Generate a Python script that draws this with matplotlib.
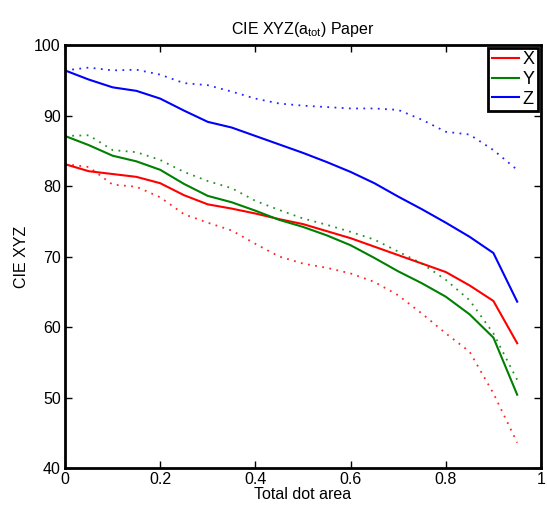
import numpy as np
import matplotlib
matplotlib.use('Agg')
from matplotlib import pyplot as plt

plt.rcParams['font.family'] = ['Liberation Sans', 'DejaVu Sans']
plt.rcParams['mathtext.fontset'] = 'custom'
plt.rcParams['mathtext.rm'] = 'Liberation Sans'
plt.rcParams['mathtext.it'] = 'Liberation Sans'

# total dot area
area = [0.0, 0.05, 0.1, 0.15, 0.2, 0.25, 0.3, 0.35, 0.4, 0.45,
        0.5, 0.55, 0.6, 0.65, 0.7, 0.75, 0.8, 0.85, 0.9, 0.95]

# solid lines
X_solid = [83.1, 82.1, 81.7, 81.3, 80.4, 78.7, 77.4, 76.8, 76.1, 75.3,
           74.6, 73.6, 72.6, 71.4, 70.2, 69.0, 67.8, 65.9, 63.7, 57.7]
Y_solid = [87.1, 85.8, 84.3, 83.5, 82.3, 80.3, 78.6, 77.7, 76.5, 75.2,
           74.2, 73.0, 71.6, 69.8, 67.9, 66.2, 64.3, 61.8, 58.5, 50.4]
Z_solid = [96.4, 95.1, 94.0, 93.5, 92.4, 90.7, 89.1, 88.3, 87.1, 85.9,
           84.7, 83.4, 82.0, 80.4, 78.5, 76.7, 74.8, 72.8, 70.5, 63.6]

# dotted lines
X_dot = [83.1, 82.7, 80.2, 79.9, 78.4, 76.0, 74.8, 73.7, 71.8, 70.0,
         69.0, 68.4, 67.6, 66.4, 64.5, 61.9, 59.1, 56.5, 50.6, 43.6]
Y_dot = [87.1, 87.2, 85.1, 84.8, 83.7, 82.0, 80.7, 79.7, 77.9, 76.6,
         75.4, 74.5, 73.5, 72.4, 70.7, 69.0, 66.7, 63.8, 59.1, 52.5]
Z_dot = [96.4, 96.8, 96.4, 96.5, 95.8, 94.6, 94.3, 93.4, 92.4, 91.7,
         91.4, 91.2, 91.0, 91.0, 90.8, 89.4, 87.7, 87.3, 85.1, 82.3]

fig = plt.figure(figsize=(5.47, 5.07), dpi=100)
ax = fig.add_axes([0.1188, 0.0769, 0.8702, 0.8343])

ax.plot(area, X_solid, color='#ff0000', lw=1.5, label='X')
ax.plot(area, Y_solid, color='#008000', lw=1.5, label='Y')
ax.plot(area, Z_solid, color='#0000ff', lw=1.5, label='Z')
dots = (0, (1, 3))
ax.plot(area, X_dot, color='#ff0000', lw=1.3, ls=dots, alpha=0.85)
ax.plot(area, Y_dot, color='#008000', lw=1.3, ls=dots, alpha=0.85)
ax.plot(area, Z_dot, color='#0000ff', lw=1.3, ls=dots, alpha=0.85)

ax.set_xlim(0, 1)
ax.set_ylim(40, 100)
ax.set_xticks([0, 0.2, 0.4, 0.6, 0.8, 1])
ax.set_xticklabels(['0', '0.2', '0.4', '0.6', '0.8', '1'])
ax.set_yticks([40, 50, 60, 70, 80, 90, 100])
ax.tick_params(direction='in', top=True, right=True, length=5, width=1,
               labelsize=11.5, pad=3)
for s in ax.spines.values():
    s.set_linewidth(2)

ax.set_xlabel('Total dot area', fontsize=11.5, labelpad=0)
ax.set_ylabel('CIE XYZ', fontsize=11.5, labelpad=4)
ax.set_title('CIE XYZ(a$_{tot}$) Paper', fontsize=11.5, pad=8)

leg = ax.legend(loc='upper right', fontsize=13, handlelength=1.5,
                handletextpad=0.2, borderpad=0.2, labelspacing=0.15,
                fancybox=False, framealpha=1, borderaxespad=0.15)
leg.get_frame().set_edgecolor('black')
leg.get_frame().set_linewidth(2)

plt.savefig('out.png', dpi=100)
